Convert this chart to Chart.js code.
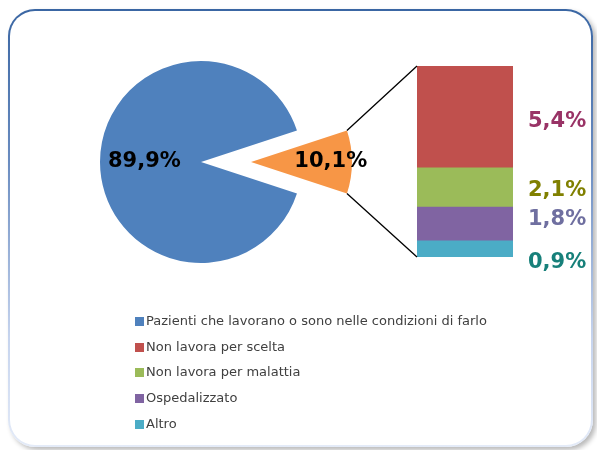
<!DOCTYPE html>
<html>
<head>
<meta charset="utf-8">
<script src="https://cdn.jsdelivr.net/npm/chart.js@4.4.1/dist/chart.umd.min.js"></script>
<style>
  html, body { margin: 0; padding: 0; background: #fff; }
  #wrap { position: relative; width: 597px; height: 450px; overflow: hidden; background: #fff; }
  #frame {
    position: absolute; left: 8px; top: 9px; width: 585px; height: 438px;
    border-radius: 27px;
    background: linear-gradient(#3a66a3, #6a8cc0 35%, #c6d4ee 75%, #e4ebf8);
    box-shadow: 3px 3px 5px rgba(0, 0, 0, 0.28);
  }
  #frame .inner {
    position: absolute; left: 2px; top: 2px; right: 2px; bottom: 2px;
    border-radius: 25px; background: #fff;
  }
  canvas { position: absolute; left: 0; top: 0; }
  #legend {
    position: absolute; left: 135px; top: 308px;
    font-family: "DejaVu Sans", sans-serif; font-size: 13px; color: #404040;
  }
  #legend div { height: 25.7px; line-height: 25.7px; white-space: nowrap; }
  #legend span {
    display: inline-block; width: 9px; height: 9px; margin-right: 2px; vertical-align: -1px;
  }
</style>
</head>
<body>
<div id="wrap">
  <div id="frame"><div class="inner"></div></div>
  <canvas id="pieMain" width="597" height="450"></canvas>
  <canvas id="pieOut" width="597" height="450"></canvas>
  <canvas id="bar" width="597" height="450"></canvas>
  <div id="legend"></div>
</div>
<script>
// --- data ---
const categories = [
    'Pazienti che lavorano o sono nelle condizioni di farlo',
    'Non lavora per scelta',
    'Non lavora per malattia',
    'Ospedalizzato',
    'Altro'
];
const pieValues = [89.9, 10.1];      // lavorano / non lavorano
const barValues = [5.4, 2.1, 1.8, 0.9]; // dettaglio del 10,1%

// --- styles ---
const BLUE = '#4F81BD', ORANGE = '#F79646';
const barColors = ['#C0504D', '#9BBB59', '#8064A2', '#4BACC6'];
const barLabelColors = ['#993366', '#808000', '#6F6FA0', '#17807A'];
const legendColors = [BLUE].concat(barColors);

const W = 597, H = 450;
const CX = 201, CY = 162, R = 101, EXPLODE = 50;
const BAR = { left: 417, right: 513, top: 66, bottom: 257 };
const LABEL_FONT = 'bold 21px "DejaVu Sans"';

function fmt(v) {
    return v.toFixed(1).replace('.', ',') + '%';
}

// start so that the small slice is centred on the right (3 o'clock)
const total = pieValues[0] + pieValues[1];
const rotation = 90 + (pieValues[1] / total) * 180;

function piePadding(cx) {
    return { left: cx - R, right: W - cx - R, top: CY - R, bottom: H - CY - R };
}

// label on a slice, at a fraction of the radius along its middle angle
function sliceLabel(index, frac) {
    return {
        id: 'sliceLabel' + index,
        afterDatasetsDraw(chart) {
            const arc = chart.getDatasetMeta(0).data[index];
            const mid = (arc.startAngle + arc.endAngle) / 2;
            const ctx = chart.ctx;
            ctx.save();
            ctx.font = LABEL_FONT;
            ctx.fillStyle = '#000';
            ctx.textAlign = 'center';
            ctx.textBaseline = 'middle';
            ctx.fillText(fmt(pieValues[index]),
                arc.x + Math.cos(mid) * arc.outerRadius * frac,
                arc.y + Math.sin(mid) * arc.outerRadius * frac);
            ctx.restore();
        }
    };
}

function pieConfig(cx, colors, labelPlugin) {
    return {
        type: 'pie',
        data: {
            labels: [categories[0], 'Non lavora'],
            datasets: [{
                data: pieValues,
                backgroundColor: colors,
                borderWidth: 0,
                radius: R
            }]
        },
        options: {
            responsive: false,
            animation: false,
            events: [],
            rotation: rotation,
            layout: { padding: piePadding(cx) },
            plugins: { legend: { display: false }, tooltip: { enabled: false } }
        },
        plugins: [labelPlugin]
    };
}

// main pie (blue slice) and the exploded small slice drawn 50px to the right
new Chart(document.getElementById('pieMain'),
    pieConfig(CX, [BLUE, 'rgba(0,0,0,0)'], sliceLabel(0, 0.56)));
const pieOut = new Chart(document.getElementById('pieOut'),
    pieConfig(CX + EXPLODE, ['rgba(0,0,0,0)', ORANGE], sliceLabel(1, 0.79)));

// connectors from the small slice to the bar, and value labels next to the bar
const barExtras = {
    id: 'barExtras',
    afterDatasetsDraw(chart) {
        const ctx = chart.ctx;
        const area = chart.chartArea;
        const arc = pieOut.getDatasetMeta(0).data[1];

        ctx.save();
        ctx.strokeStyle = '#000';
        ctx.lineWidth = 1.3;
        ctx.beginPath();
        ctx.moveTo(arc.x + Math.cos(arc.startAngle) * arc.outerRadius,
                   arc.y + Math.sin(arc.startAngle) * arc.outerRadius);
        ctx.lineTo(area.left, area.top);
        ctx.moveTo(arc.x + Math.cos(arc.endAngle) * arc.outerRadius,
                   arc.y + Math.sin(arc.endAngle) * arc.outerRadius);
        ctx.lineTo(area.left, area.bottom);
        ctx.stroke();

        // nudges keep the small labels apart, like the original
        const nudge = [5, 4, -4, 14];
        ctx.font = LABEL_FONT;
        ctx.textAlign = 'left';
        ctx.textBaseline = 'middle';
        chart.data.datasets.forEach((ds, i) => {
            const bar = chart.getDatasetMeta(i).data[0];
            ctx.fillStyle = barLabelColors[i];
            ctx.fillText(fmt(ds.data[0]), area.right + 15, (bar.y + bar.base) / 2 + nudge[i]);
        });
        ctx.restore();
    }
};

new Chart(document.getElementById('bar'), {
    type: 'bar',
    data: {
        labels: [''],
        datasets: barValues.map((v, i) => ({
            label: categories[i + 1],
            data: [v],
            backgroundColor: barColors[i],
            borderWidth: 0,
            barPercentage: 1,
            categoryPercentage: 1
        }))
    },
    options: {
        responsive: false,
        animation: false,
        events: [],
        layout: {
            padding: { left: BAR.left, right: W - BAR.right, top: BAR.top, bottom: H - BAR.bottom }
        },
        scales: {
            x: { display: false, stacked: true },
            y: {
                display: false, stacked: true, reverse: true,
                min: 0, max: barValues.reduce((a, b) => a + b, 0)
            }
        },
        plugins: { legend: { display: false }, tooltip: { enabled: false } }
    },
    plugins: [barExtras]
});

// legend
const legend = document.getElementById('legend');
categories.forEach((name, i) => {
    const row = document.createElement('div');
    const box = document.createElement('span');
    box.style.background = legendColors[i];
    row.appendChild(box);
    row.appendChild(document.createTextNode(name));
    legend.appendChild(row);
});
</script>
</body>
</html>
